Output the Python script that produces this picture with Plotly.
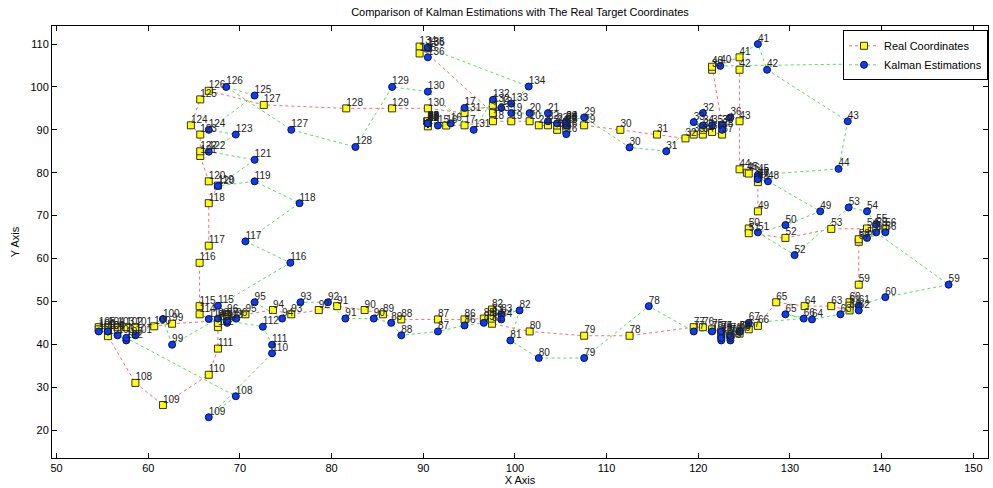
import plotly.graph_objects as go

# ---- data ----
idx = list(range(1, 137))

real_x = [90.5]*14 + [
    90.5, 92.5, 94.5, 97.6, 99.6, 101.6, 102.6, 103.6, 104.6, 104.6,
    105.6, 105.6, 105.6, 105.6, 107.55, 111.5, 115.5, 118.6, 119.5, 120.5,
    120.5, 121.5, 122.6, 122.6, 121.5, 121.5, 124.5, 124.5, 124.5, 124.5,
    125.3, 125.5, 126.5, 126.5, 126.5, 125.5, 125.5, 129.5, 134.5, 138.4,
    139.4, 140.4, 137.5, 137.5, 137.5, 136.5, 136.5, 136.5, 134.5, 131.6,
    128.5, 126.5, 125.5, 124.5, 124.5, 123.5, 123.5, 122.5, 122.5, 122.5,
    121.5, 120.5, 119.5, 112.5, 107.55, 101.6, 97.5, 97.5, 97.5, 97.5,
    96.6, 94.5, 91.6, 87.6, 85.6, 83.6, 80.6, 78.6, 75.6, 73.6,
    70.6, 68.6, 68.6, 67.6, 62.6, 60.65, 58.6, 57.6, 56.65, 55.6,
    54.6, 54.6, 55.6, 58.6, 61.6, 66.6, 67.6, 67.6, 67.6, 65.6,
    65.6, 65.6, 66.6, 66.6, 67.6, 66.6, 65.67, 65.67, 65.67, 64.65,
    65.67, 66.6, 72.6, 81.6, 86.6, 90.5, 94.5, 97.6, 97.6, 89.6,
    89.6, 90.5]
real_y = [92.0]*14 + [
    90.8, 91.0, 91.05, 92.0, 92.0, 92.0, 91.05, 91.05, 90.0, 91.0,
    91.05, 90.0, 91.0, 91.5, 91.05, 90.0, 88.9, 88.0, 88.9, 88.9,
    90.0, 89.5, 88.9, 91.05, 104.0, 104.7, 106.9, 104.0, 92.0, 80.8,
    80.0, 79.8, 78.5, 77.8, 71.0, 67.0, 65.9, 64.8, 66.9, 67.0,
    67.0, 67.0, 63.9, 64.5, 53.9, 49.8, 49.0, 47.9, 48.9, 48.9,
    49.8, 44.3, 43.5, 43.0, 42.5, 42.1, 42.5, 42.1, 42.5, 43.0,
    43.5, 44.0, 44.0, 42.0, 42.0, 43.0, 44.8, 48.1, 47.0, 46.0,
    46.0, 45.8, 45.8, 45.8, 47.0, 48.0, 48.9, 48.0, 47.0, 48.0,
    47.0, 47.0, 46.0, 45.5, 44.8, 44.2, 44.0, 44.0, 44.0, 44.0,
    44.0, 43.5, 41.9, 31.0, 25.85, 32.9, 39.0, 44.0, 45.0, 47.0,
    48.9, 59.0, 63.0, 72.9, 77.0, 78.0, 83.9, 85.0, 88.9, 91.05,
    97.1, 99.1, 95.8, 95.0, 95.0, 95.0, 93.9, 95.8, 93.9, 109.4,
    107.8, 109.0]

kal_x = [90.5]*14 + [
    91.6, 93.0, 94.5, 98.5, 99.6, 101.6, 103.6, 103.6, 104.6, 105.6,
    105.6, 105.6, 105.6, 105.6, 107.55, 112.5, 116.5, 120.5, 119.5, 120.5,
    121.5, 123.5, 122.6, 122.6, 136.3, 122.4, 126.5, 127.5, 136.3, 135.3,
    126.5, 126.5, 126.5, 127.6, 133.3, 129.5, 126.5, 130.5, 136.4, 138.4,
    139.4, 140.4, 138.4, 139.4, 147.3, 140.4, 137.5, 137.5, 135.5, 132.4,
    129.5, 131.5, 125.5, 124.5, 123.5, 122.5, 123.5, 122.5, 123.5, 124.5,
    122.5, 121.5, 119.5, 114.6, 107.55, 102.6, 99.5, 100.5, 98.5, 98.5,
    96.6, 94.5, 91.6, 87.6, 86.5, 84.6, 81.5, 79.6, 76.6, 74.6,
    71.6, 69.6, 68.6, 67.6, 62.6, 61.6, 58.6, 57.6, 56.65, 55.6,
    54.6, 55.6, 57.6, 69.55, 66.6, 73.5, 73.5, 72.5, 68.6, 66.6,
    67.6, 75.5, 70.6, 76.5, 71.6, 67.6, 71.6, 66.6, 69.55, 66.6,
    71.6, 68.5, 75.6, 82.6, 86.6, 90.5, 95.5, 97.6, 99.6, 101.5,
    90.5, 90.5]
kal_y = [91.5]*14 + [
    91.0, 91.5, 95.1, 95.1, 93.9, 93.9, 93.9, 92.0, 91.5, 92.0,
    91.0, 89.0, 91.5, 92.0, 92.9, 85.9, 85.0, 93.9, 91.8, 91.0,
    91.05, 92.9, 91.05, 90.0, 105.3, 104.9, 110.0, 104.0, 92.0, 80.9,
    79.5, 79.0, 78.5, 78.0, 71.0, 67.8, 66.1, 60.8, 71.9, 71.0,
    68.0, 66.1, 64.8, 66.1, 53.9, 51.0, 49.0, 47.9, 47.0, 45.8,
    47.0, 46.0, 45.0, 42.9, 40.9, 40.9, 41.5, 41.5, 42.0, 43.0,
    43.0, 43.0, 43.0, 48.9, 36.8, 36.8, 40.9, 47.9, 47.0, 45.8,
    45.0, 44.4, 43.0, 42.1, 45.0, 46.0, 46.0, 49.8, 49.8, 46.0,
    49.8, 46.0, 45.0, 46.0, 39.9, 45.9, 42.1, 40.9, 42.1, 43.0,
    43.0, 43.0, 41.5, 27.9, 23.0, 37.9, 39.9, 44.1, 45.5, 45.9,
    49.0, 59.0, 64.0, 72.9, 78.0, 76.9, 83.0, 84.9, 88.9, 90.0,
    98.0, 100.0, 90.0, 86.0, 100.0, 98.9, 90.0, 97.0, 96.1, 100.1,
    109.1, 106.9]

# the reference shows no visible segment between estimation 38 and 39
kal_break_after = [38]

x_ticks = [50, 60, 70, 80, 90, 100, 110, 120, 130, 140, 150]
y_ticks = [20, 30, 40, 50, 60, 70, 80, 90, 100, 110]
labels = [str(i) for i in idx]

# build the estimation polyline with the gap(s)
kal_lx, kal_ly = [], []
for i, (xv, yv) in enumerate(zip(kal_x, kal_y), start=1):
    kal_lx.append(xv)
    kal_ly.append(yv)
    if i in kal_break_after:
        kal_lx.append(None)
        kal_ly.append(None)

FONT = "Liberation Sans, Arial, Helvetica, sans-serif"

fig = go.Figure()
fig.add_trace(go.Scatter(
    x=real_x, y=real_y, mode="lines+markers", name="Real Coordinates",
    line=dict(color="#ff6a6a", width=1, dash="dot"),
    marker=dict(symbol="square", size=7, color="#ffff00",
                line=dict(color="#333333", width=1))))
fig.add_trace(go.Scatter(
    x=kal_lx, y=kal_ly, mode="lines+markers", name="Kalman Estimations",
    connectgaps=False,
    line=dict(color="#55e055", width=1, dash="dot"),
    marker=dict(symbol="circle", size=7, color="#0a3cff",
                line=dict(color="#111133", width=1))))
fig.add_trace(go.Scatter(
    x=real_x, y=real_y, mode="text", text=labels, textposition="top right",
    textfont=dict(family=FONT, size=10, color="#222222"),
    showlegend=False, hoverinfo="skip"))
fig.add_trace(go.Scatter(
    x=kal_x, y=kal_y, mode="text", text=labels, textposition="top right",
    textfont=dict(family=FONT, size=10, color="#222222"),
    showlegend=False, hoverinfo="skip"))

axis_common = dict(
    showgrid=False, zeroline=False, showline=True, linecolor="#000000",
    linewidth=1, mirror="ticks", ticks="inside", ticklen=5,
    tickcolor="#000000", tickfont=dict(family=FONT, size=11, color="#000000"))

fig.update_layout(
    width=993, height=488,
    margin=dict(l=52, r=4, t=26, b=28),
    paper_bgcolor="#ffffff", plot_bgcolor="#ffffff",
    font=dict(family=FONT, size=11, color="#000000"),
    title=dict(text="Comparison of Kalman Estimations with The Real Target Coordinates",
               x=0.5, xref="paper", y=0.975, yanchor="middle",
               font=dict(family=FONT, size=11, color="#000000")),
    xaxis=dict(range=[49.5, 151.6], tickvals=x_ticks,
               title=dict(text="X Axis", standoff=2,
                          font=dict(family=FONT, size=11)),
               **axis_common),
    yaxis=dict(range=[13.5, 114.2], tickvals=y_ticks,
               title=dict(text="Y Axis", standoff=8,
                          font=dict(family=FONT, size=11)),
               **axis_common),
    legend=dict(x=1.0, y=0.99, xanchor="right", yanchor="top",
                bgcolor="#ffffff", bordercolor="#000000", borderwidth=1,
                font=dict(family=FONT, size=11), tracegroupgap=0,
                itemwidth=30),
    showlegend=True,
)

fig.write_html(
    "out.html",
    config={"displayModeBar": False},
    post_script="document.body.style.margin='0px';document.body.style.overflow='hidden';")
